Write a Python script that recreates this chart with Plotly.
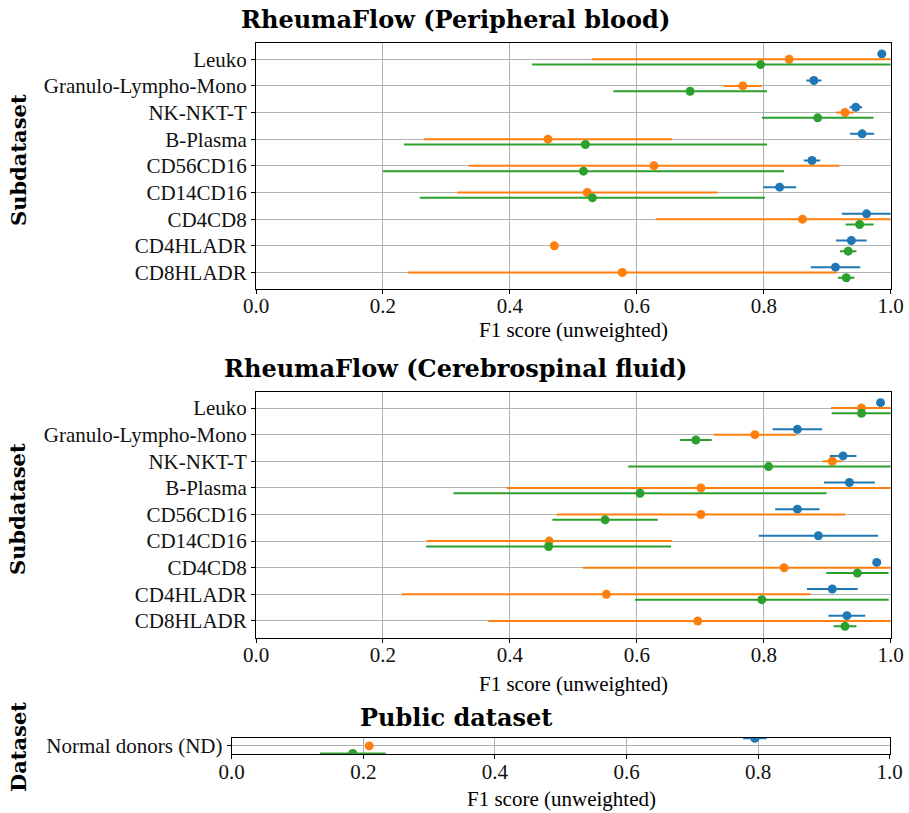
import plotly.graph_objects as go

# ---------------- data ----------------
categories = ["Leuko", "Granulo-Lympho-Mono", "NK-NKT-T", "B-Plasma", "CD56CD16",
              "CD14CD16", "CD4CD8", "CD4HLADR", "CD8HLADR"]
public_categories = ["Normal donors (ND)"]
x_ticks = [0.0, 0.2, 0.4, 0.6, 0.8, 1.0]
x_ticklabels = ["0.0", "0.2", "0.4", "0.6", "0.8", "1.0"]

# Peripheral blood
pb_blue = [0.986, 0.879, 0.945, 0.955, 0.876, 0.825, 0.962, 0.938, 0.913]
pb_blue_err = [0.004, 0.012, 0.010, 0.019, 0.013, 0.026, 0.039, 0.024, 0.039]
pb_orange = [0.840, 0.767, 0.928, 0.460, 0.627, 0.522, 0.861, 0.470, 0.577]
pb_orange_err = [0.311, 0.030, 0.014, 0.195, 0.292, 0.205, 0.231, 0.0, 0.338]
pb_green = [0.795, 0.684, 0.885, 0.519, 0.516, 0.530, 0.951, 0.933, 0.930]
pb_green_err = [0.360, 0.121, 0.088, 0.286, 0.316, 0.272, 0.022, 0.013, 0.013]

# Cerebrospinal fluid
csf_blue = [0.984, 0.853, 0.925, 0.935, 0.853, 0.886, 0.978, 0.908, 0.931]
csf_blue_err = [0.005, 0.039, 0.021, 0.040, 0.035, 0.094, 0.006, 0.040, 0.029]
csf_orange = [0.954, 0.786, 0.908, 0.701, 0.701, 0.462, 0.832, 0.552, 0.696]
csf_orange_err = [0.048, 0.065, 0.015, 0.306, 0.227, 0.193, 0.317, 0.322, 0.330]
csf_green = [0.954, 0.693, 0.8075, 0.605, 0.550, 0.461, 0.9475, 0.797, 0.928]
csf_green_err = [0.047, 0.025, 0.221, 0.294, 0.083, 0.193, 0.049, 0.200, 0.018]

# Public dataset
pub_blue = [0.795]
pub_blue_err = [0.018]
pub_orange = [0.209]
pub_orange_err = [0.0]
pub_green = [0.184]
pub_green_err = [0.050]

colors = ["#1f77b4", "#ff7f0e", "#2ca02c"]
offsets = [-0.2, 0.0, 0.2]
series_names = ["Series 1", "Series 2", "Series 3"]

W, H = 909, 813
FONT = "Liberation Serif"
TITLE_FONT = "DejaVu Serif"


def px_x(p):
    return p / W


def px_y(p):
    return 1 - p / H


fig = go.Figure()

panels = [
    dict(cats=categories, data=[(pb_blue, pb_blue_err), (pb_orange, pb_orange_err), (pb_green, pb_green_err)],
         xdom=[256, 890.7], ydom=[42.7, 289.0], suffix=""),
    dict(cats=categories, data=[(csf_blue, csf_blue_err), (csf_orange, csf_orange_err), (csf_green, csf_green_err)],
         xdom=[256, 890.7], ydom=[391.5, 637.5], suffix="2"),
    dict(cats=public_categories, data=[(pub_blue, pub_blue_err), (pub_orange, pub_orange_err), (pub_green, pub_green_err)],
         xdom=[231.7, 889.7], ydom=[737.5, 754.3], suffix="3"),
]

for panel in panels:
    sfx = panel["suffix"]
    n = len(panel["cats"])
    for k, (vals, errs) in enumerate(panel["data"]):
        fig.add_trace(go.Scatter(
            x=vals,
            y=[i + offsets[k] for i in range(n)],
            mode="markers",
            name=series_names[k],
            showlegend=False,
            marker=dict(color=colors[k], size=9, line=dict(width=0)),
            error_x=dict(type="data", array=errs, symmetric=True, color=colors[k],
                         thickness=2, width=0),
            xaxis="x" + sfx, yaxis="y" + sfx,
            cliponaxis=True,
        ))
    lo, hi = -0.2, (n - 1) + 0.2
    margin = 0.05 * (hi - lo)
    axis_common = dict(showline=True, mirror=True, linecolor="black", linewidth=1,
                       ticks="outside", ticklen=4, tickcolor="black", tickwidth=1,
                       showgrid=True, gridcolor="#b0b0b0", gridwidth=1, zeroline=False,
                       automargin=False,
                       tickfont=dict(family=FONT, size=21, color="#111"))
    fig.layout["xaxis" + sfx] = dict(
        domain=[px_x(panel["xdom"][0]), px_x(panel["xdom"][1])],
        range=[0, 1], tickvals=x_ticks, ticktext=x_ticklabels,
        anchor="y" + sfx, **axis_common)
    fig.layout["yaxis" + sfx] = dict(
        domain=[px_y(panel["ydom"][1]), px_y(panel["ydom"][0])],
        range=[hi + margin, lo - margin], tickvals=list(range(n)), ticktext=panel["cats"],
        anchor="x" + sfx, **axis_common)
    try:
        fig.layout["xaxis" + sfx].ticklabelstandoff = -6
    except Exception:
        pass

annots = [
    ("<b>RheumaFlow (Peripheral blood)</b>", 456, 19, 0, TITLE_FONT, 24),
    ("<b>RheumaFlow (Cerebrospinal fluid)</b>", 456, 368, 0, TITLE_FONT, 24),
    ("<b>Public dataset</b>", 456, 717, 0, TITLE_FONT, 24),
    ("F1 score (unweighted)", 573, 330, 0, FONT, 21),
    ("F1 score (unweighted)", 573, 684, 0, FONT, 21),
    ("F1 score (unweighted)", 561, 799, 0, FONT, 21),
    ("<b>Subdataset</b>", 18, 160, -90, TITLE_FONT, 21),
    ("<b>Subdataset</b>", 18, 509, -90, TITLE_FONT, 21),
    ("<b>Dataset</b>", 18, 747, -90, TITLE_FONT, 21),
]
for text, x, y, ang, fam, size in annots:
    fig.add_annotation(text=text, x=px_x(x), y=px_y(y), xref="paper", yref="paper",
                       xanchor="center", yanchor="middle", showarrow=False, textangle=ang,
                       font=dict(family=fam, size=size, color="black"))

fig.update_layout(width=W, height=H, autosize=False,
                  margin=dict(l=0, r=0, t=0, b=0, pad=0),
                  paper_bgcolor="white", plot_bgcolor="white",
                  font=dict(family=FONT, size=21, color="#111"))

fig.write_html("out.html", config={"responsive": False},
               post_script="document.body.style.margin='0';document.body.style.overflow='hidden';")
